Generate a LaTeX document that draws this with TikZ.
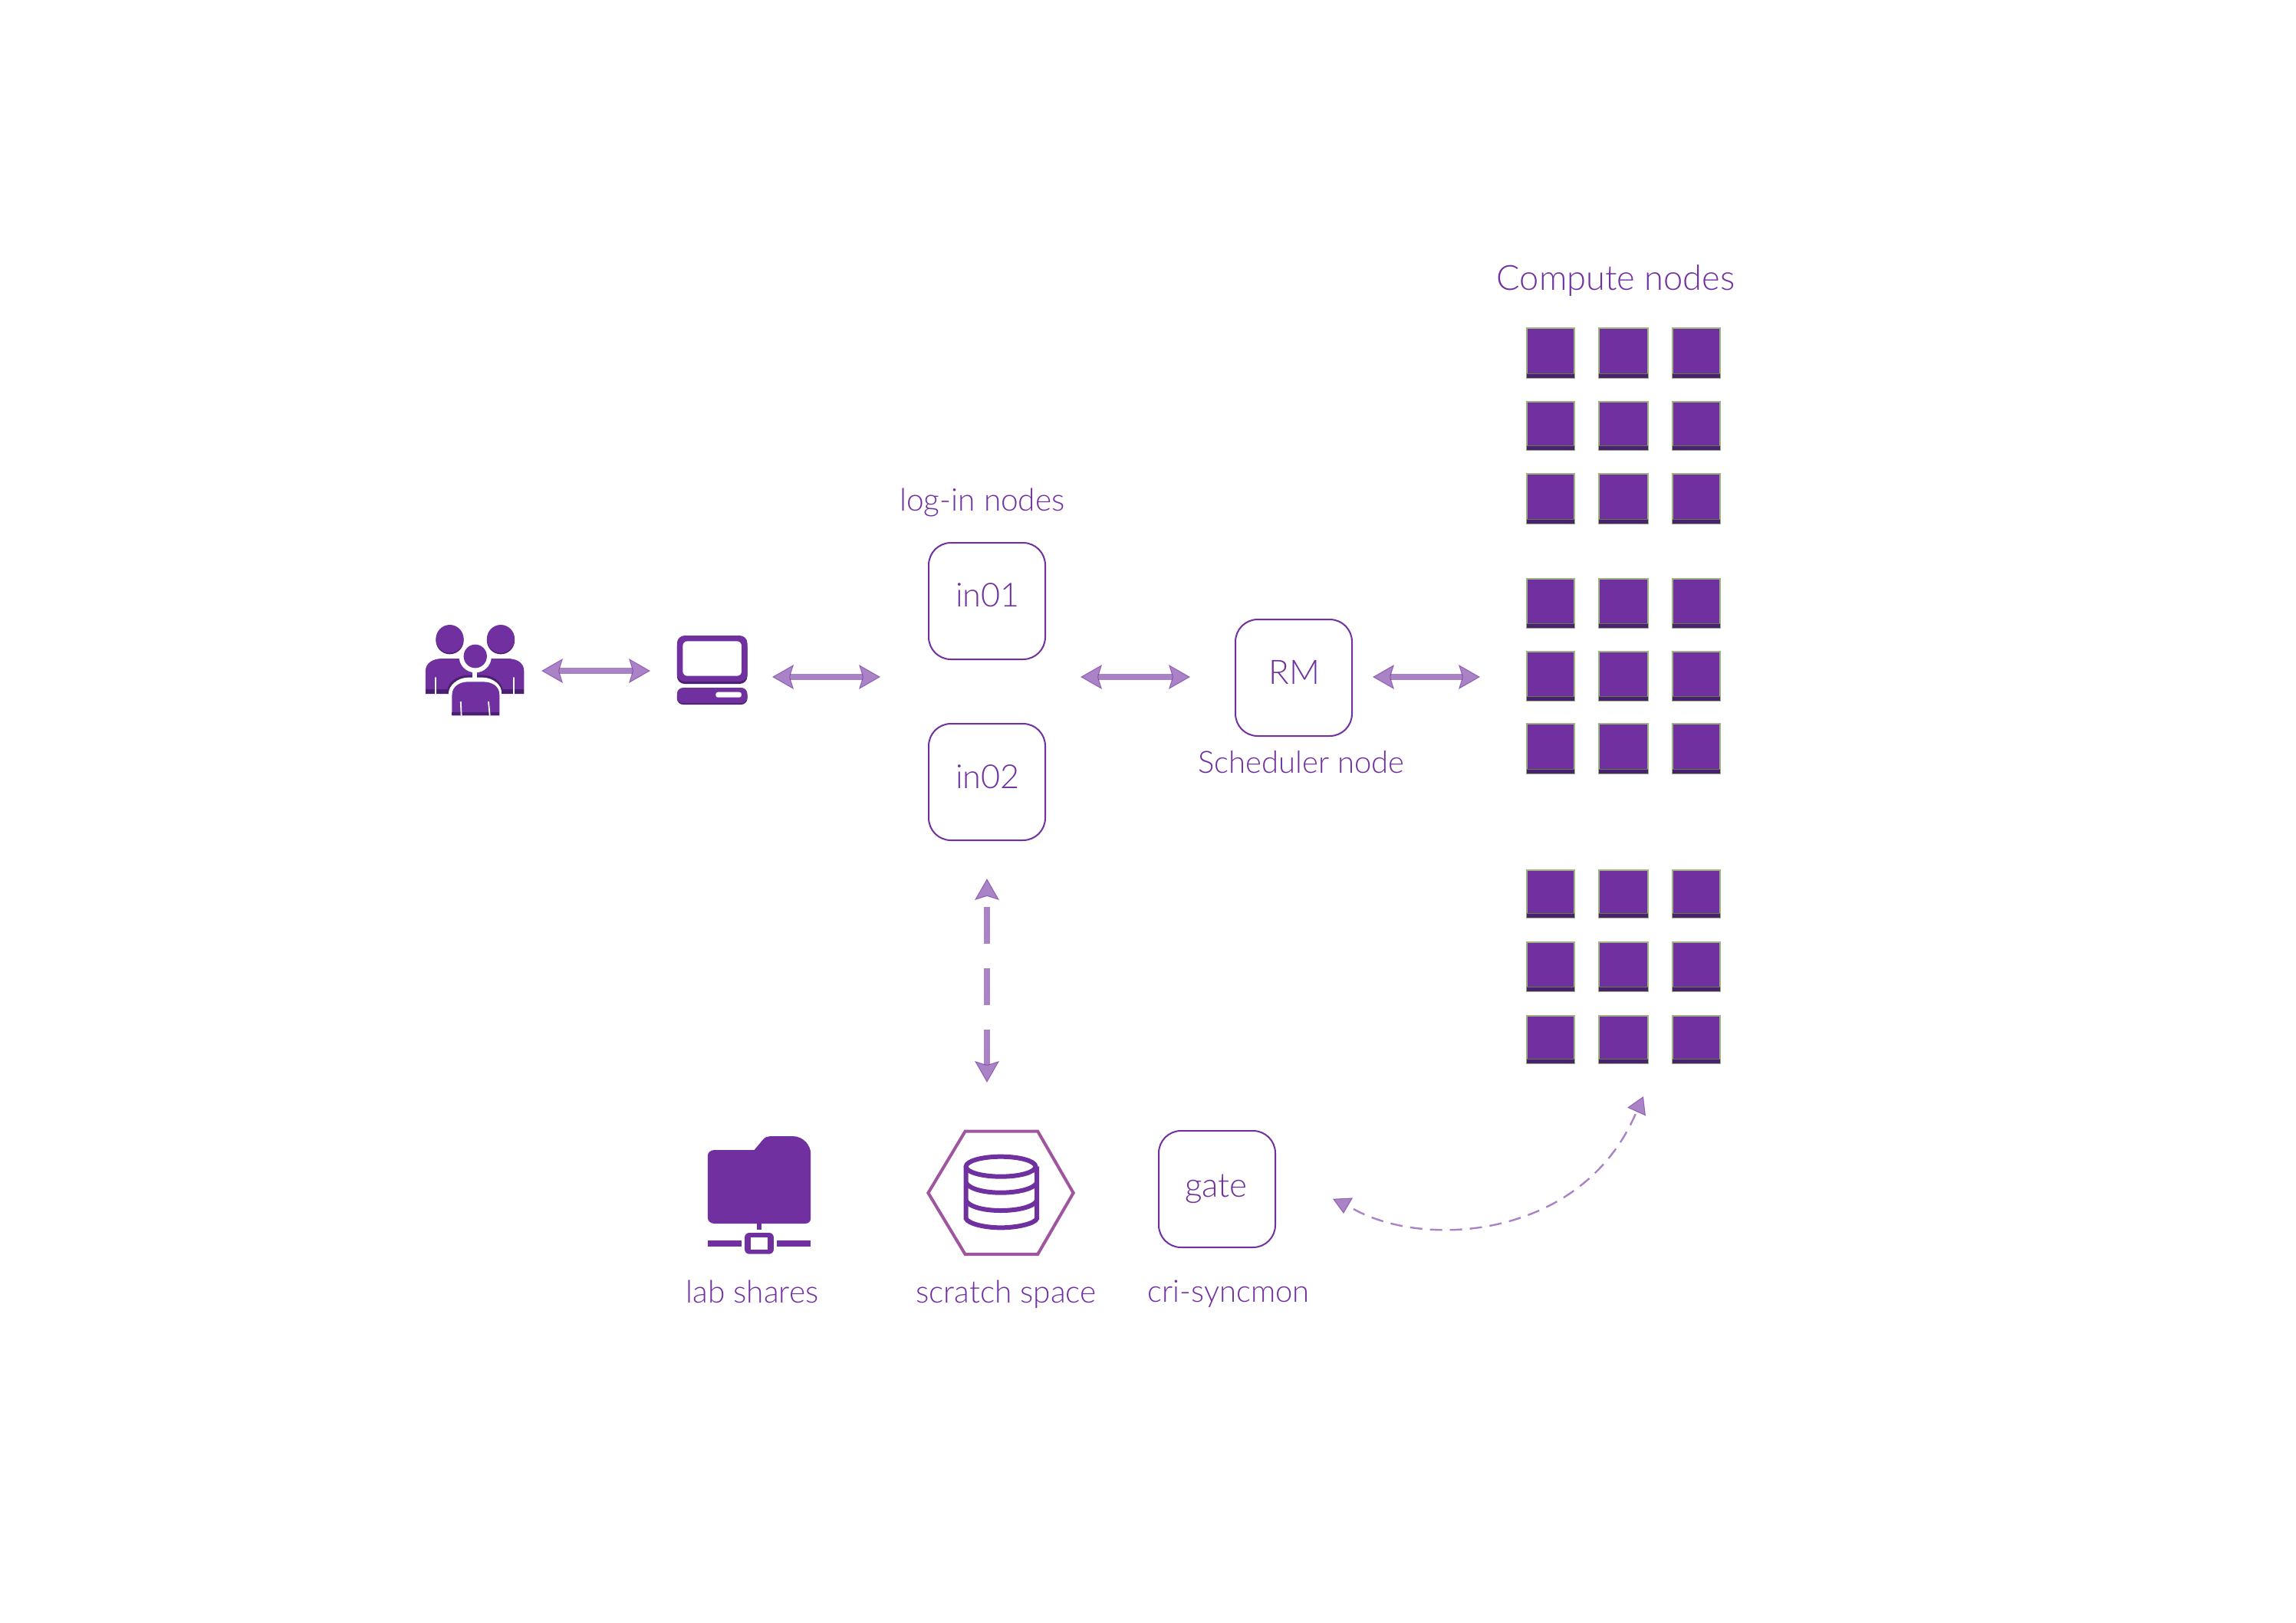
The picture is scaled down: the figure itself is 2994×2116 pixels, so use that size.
\documentclass[tikz,border=0pt]{standalone}
\usepackage{fontspec}
\setmainfont{Lato Light}
\usetikzlibrary{arrows.meta}
\definecolor{mainp}{HTML}{7030A0}
\definecolor{darkp}{HTML}{4A2070}
\definecolor{hexp}{HTML}{A0559F}
\definecolor{edgeg}{HTML}{9DB380}
\definecolor{lineg}{HTML}{5F7F45}
\tikzset{
  every node/.style={text=mainp},
  roundbox/.style={draw=mainp,line width=1pt,rounded corners=14.5pt,minimum width=76pt,minimum height=76pt,inner sep=0pt},
  lbl/.style={anchor=base,inner sep=0pt,font=\fontsize{#1}{#1}\selectfont},
  biarrow/.style={draw=mainp,opacity=.6,line width=4pt,{Stealth[length=14pt,width=16pt,inset=2.5pt,fill=mainp,line width=.5pt]}-{Stealth[length=14pt,width=16pt,inset=2.5pt,fill=mainp,line width=.5pt]}},
  thinarrow/.style={draw=mainp,opacity=.6,line width=1.2pt,dash pattern=on 8pt off 5pt},
  smalltip/.style={draw=mainp,opacity=.6,line width=.6pt,-{Triangle[length=#1,width=13pt,fill=mainp,line width=.5pt]}},
  cnode/.style={draw=edgeg,fill=mainp,line width=.7pt,inner sep=0pt},
  iconpart/.style={fill=mainp},
  iconshade/.style={fill=darkp},
}
\begin{document}
\begin{tikzpicture}[x=0.5pt,y=-0.5pt]
\useasboundingbox (0,0) rectangle (2994,2116);

% users icon
\begin{scope}[shift={(520,760)},x=0.21044pt,y=-0.16667pt]
  \fill[iconshade] (158,226) ellipse [x radius=43,y radius=54];
  \fill[iconshade] (316,226) ellipse [x radius=43,y radius=54];
  \fill[iconpart] (158,220) ellipse [x radius=43,y radius=55];
  \fill[iconpart] (316,220) ellipse [x radius=43,y radius=55];
  \fill[iconpart] (83,435) -- (83,345) .. controls (83,315) and (105,297) .. (135,297)
     -- (337,297) .. controls (367,297) and (388,315) .. (388,345) -- (388,435) -- cycle;
  \fill[iconshade] (83,418) rectangle (155,435);
  \fill[iconshade] (318,418) rectangle (388,435);
  \fill[iconshade] (150,435) -- (150,420) .. controls (155,385) and (185,362) .. (215,362)
     -- (260,362) .. controls (290,362) and (318,385) .. (322,420) -- (322,435) -- cycle;
  \fill[white] (154,440) -- (154,435) .. controls (154,400) and (185,371) .. (215,371)
     -- (260,371) .. controls (290,371) and (322,400) .. (318,435) -- (318,440) -- cycle;
  \fill[white] (228,330) rectangle (243,380);
  \fill[white] (237,290) ellipse [x radius=50,y radius=62];
  \fill[iconpart] (237,288) ellipse [x radius=36,y radius=46];
  \fill[white] (155,436) rectangle (322,525);
  \fill[iconpart] (165,520) -- (165,440) .. controls (165,405) and (190,388) .. (215,388)
     -- (260,388) .. controls (290,388) and (312,405) .. (312,440) -- (312,520) -- cycle;
  \fill[iconshade] (165,507) rectangle (312,520);
  \draw[white,line width=.9pt] (192,465) -- (194,520);
  \draw[white,line width=.9pt] (278,465) -- (282,520);
  \draw[white,line width=1pt,line cap=round] (115,372) -- (115,435);
  \draw[white,line width=1pt,line cap=round] (356,372) -- (356,435);
  % computer icon
  \fill[iconshade,rounded corners=5pt] (862,220) rectangle (1080,396);
  \fill[iconpart,rounded corners=5pt] (862,207) rectangle (1080,387);
  \fill[white,rounded corners=3pt] (880,229) rectangle (1062,365);
  \fill[iconshade,rounded corners=4pt] (862,420) rectangle (1080,477);
  \fill[iconpart,rounded corners=4pt] (862,411) rectangle (1080,472);
  \fill[white,rounded corners=1.5pt] (982,428) rectangle (1062,449);
\end{scope}

% folder icon and database icon
\begin{scope}[shift={(880,1461)},x=0.17857pt,y=-0.16667pt]
  \fill[iconpart] (145,117) -- (290,117) -- (322,76) .. controls (330,66) and (340,63) .. (350,63)
    -- (430,63) .. controls (470,63) and (496,100) .. (496,130) -- (496,385)
    .. controls (496,397) and (488,405) .. (476,405) -- (145,405)
    .. controls (130,405) and (120,395) .. (120,382) -- (120,140)
    .. controls (120,127) and (130,117) .. (145,117) -- cycle;
  \fill[iconpart] (300,405) rectangle (316,430);
  \fill[iconpart] (120,471) rectangle (244,495);
  \fill[iconpart] (372,471) rectangle (496,495);
  \fill[iconpart,rounded corners=3pt] (255,441) rectangle (361,524);
  \fill[white] (276,458) rectangle (340,508);
  \draw[hexp,line width=2pt,line join=miter] (1060,44) -- (1325,44) -- (1455,285) -- (1325,525) -- (1060,525) -- (925,285) -- cycle;
  \begin{scope}[mainp,line width=3pt]
    \draw (1190,182) ellipse [x radius=127,y radius=39];
    \draw (1063,182) -- (1063,385) .. controls (1070,405) and (1130,421) .. (1190,421)
       .. controls (1250,421) and (1315,405) .. (1322,385) -- (1322,182);
    \draw (1063,245) .. controls (1075,270) and (1130,284) .. (1190,284) .. controls (1250,284) and (1310,270) .. (1322,245);
    \draw (1063,315) .. controls (1075,340) and (1130,354) .. (1190,354) .. controls (1250,354) and (1310,340) .. (1322,315);
  \end{scope}
\end{scope}

% boxes
\node[roundbox] (in01) at (1287,784) {};
\node[roundbox] (in02) at (1287,1020) {};
\node[roundbox] (rm) at (1687,884) {};
\node[roundbox] (gate) at (1587,1551) {};

% texts
\node[lbl=22.6] (tcompute) at (2107,378) {Compute nodes};
\node[lbl=20.3] (tlogin) at (1281,666) {log-in nodes};
\node[lbl=21.6] (t01) at (1288,791) {in01};
\node[lbl=21.6] (t02) at (1288,1028) {in02};
\node[lbl=22] (trm) at (1688,892) {RM};
\node[lbl=20] (tsched) at (1697,1008) {Scheduler node};
\node[lbl=22] (tgate) at (1586,1561) {gate};
\node[lbl=20] (tsync) at (1602,1698) {cri-syncmon};
\node[lbl=20.3] (tlab) at (981,1699) {lab shares};
\node[lbl=20.3] (tscratch) at (1312,1699) {scratch space};

% compute nodes
\foreach \ya/\yb [count=\r] in {428/493,524/587,618/683,755/819,850/914,944/1009,1135/1197,1229/1293,1325/1387}
  \foreach \xa/\xb [count=\c] in {1991/2053,2085/2149,2181/2243} {
    \pgfmathsetmacro{\w}{(\xb-\xa)/2}
    \pgfmathsetmacro{\h}{(\yb-\ya)/2}
    \node[cnode,minimum width=\w pt,minimum height=\h pt] (c\r\c) at ({(\xa+\xb)/2},{(\ya+\yb)/2}) {};
    \fill[darkp] (\xa,\yb-5) rectangle (\xb,\yb);
    \draw[lineg,line width=.6pt] (\xa,\yb-5.5) -- (\xb,\yb-5.5);
  }

% connector ends
\coordinate (a1l) at (706,875);
\coordinate (a1r) at (848,875);
\coordinate (a2l) at (1007,883);
\coordinate (a2r) at (1148,883);
\coordinate (a3l) at (1409,883);
\coordinate (a3r) at (1552,883);
\coordinate (a4l) at (1790,883);
\coordinate (a4r) at (1930,883);
\coordinate (a5t) at (1287,1146);
\coordinate (a5b) at (1287,1412);
\coordinate (a6s) at (1765,1577);
\coordinate (a6e) at (2134,1450);
\coordinate (h1s) at (1751,1563);
\coordinate (h1e) at (1752,1583);
\coordinate (h2s) at (2134,1450);
\coordinate (h2e) at (2143,1430);

\draw[biarrow] (a1l) -- (a1r);
\draw[biarrow] (a2l) -- (a2r);
\draw[biarrow] (a3l) -- (a3r);
\draw[biarrow] (a4l) -- (a4r);
\draw[biarrow,dash pattern=on 24pt off 16pt,dash phase=33pt] (a5t) -- (a5b);
\draw[thinarrow] (a6s) .. controls (1860,1630) and (2065,1615) .. (a6e);
\draw[smalltip=10pt] (h1s) -- (h1e);
\draw[smalltip=11pt] (h2s) -- (h2e);
\end{tikzpicture}
\end{document}
